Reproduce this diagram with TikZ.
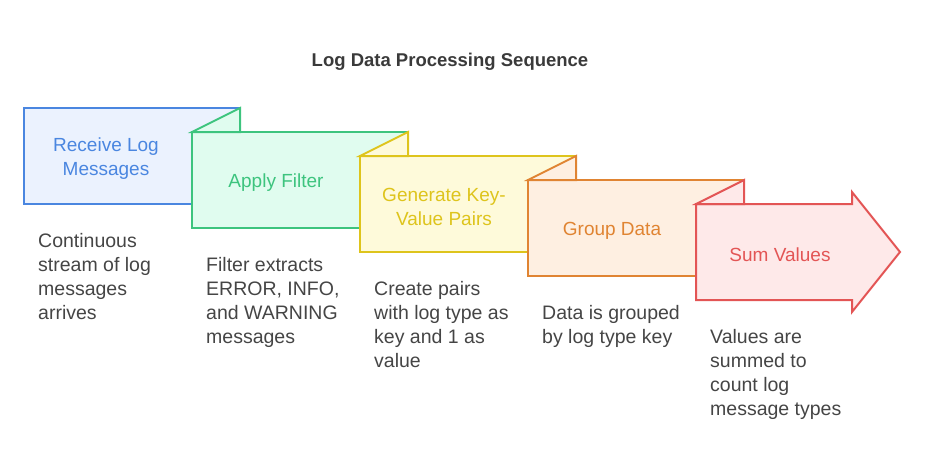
\documentclass[tikz,border=0pt]{standalone}
\usepackage{fontspec}
\setmainfont{Liberation Sans}
\begin{document}
\definecolor{blueS}{HTML}{4A86E0}
\definecolor{blueF}{HTML}{EBF2FE}
\definecolor{greenS}{HTML}{3DC47E}
\definecolor{greenF}{HTML}{E0FCEF}
\definecolor{yelS}{HTML}{DEC41C}
\definecolor{yelF}{HTML}{FEFADA}
\definecolor{oraS}{HTML}{E08432}
\definecolor{oraF}{HTML}{FEEFE1}
\definecolor{redS}{HTML}{E35555}
\definecolor{redF}{HTML}{FEE9E9}
\definecolor{descC}{HTML}{454545}
\definecolor{titleC}{HTML}{3A3A3A}
\begin{tikzpicture}[x=1pt,y=-1pt,
  shapeline/.style={line width=2pt,line join=miter},
  boxlabel/.style={font=\fontsize{19}{24}\selectfont,align=center,inner sep=0pt},
  desc/.style={font=\fontsize{19.5}{24}\selectfont,align=left,inner sep=0pt,anchor=north west,text=descC},
  titletext/.style={font=\bfseries\fontsize{18.5}{20}\selectfont,text=titleC}]
\useasboundingbox (0,0) rectangle (925,468);

\node[titletext] (title) at (450,61.5) {Log Data Processing Sequence};

% step 1: plain box
\draw[shapeline,draw=blueS,fill=blueF] (24,108) rectangle (240,204);
% steps 2-4: folded boxes, each with a flap reaching back to the previous corner
\draw[shapeline,draw=greenS,fill=greenF] (192,132) rectangle (408,228);
\draw[shapeline,draw=greenS,fill=greenF] (192,132) -- (240,108) -- (240,132) -- cycle;
\draw[shapeline,draw=yelS,fill=yelF] (360,156) rectangle (576,252);
\draw[shapeline,draw=yelS,fill=yelF] (360,156) -- (408,132) -- (408,156) -- cycle;
\draw[shapeline,draw=oraS,fill=oraF] (528,180) rectangle (744,276);
\draw[shapeline,draw=oraS,fill=oraF] (528,180) -- (576,156) -- (576,180) -- cycle;
% step 5: arrow
\draw[shapeline,draw=redS,fill=redF] (696,204) -- (852,204) -- (852,192) -- (900,252)
  -- (852,312) -- (852,300) -- (696,300) -- cycle;
\draw[shapeline,draw=redS,fill=redF] (696,204) -- (744,180) -- (744,204) -- cycle;

% step labels
\node[boxlabel,text=blueS] (l1) at (106,158.5) {Receive Log\\Messages};
\node[boxlabel,text=greenS] (l2) at (276,182.5) {Apply Filter};
\node[boxlabel,text=yelS] (l3) at (444,206.5) {Generate Key-\\Value Pairs};
\node[boxlabel,text=oraS] (l4) at (612,230.5) {Group Data};
\node[boxlabel,text=redS] (l5) at (780,254.5) {Sum Values};

% descriptions
\node[desc] (d1) at (38,233.5) {Continuous\\stream of log\\messages\\arrives};
\node[desc] (d2) at (206,257.5) {Filter extracts\\ERROR, INFO,\\and WARNING\\messages};
\node[desc] (d3) at (374,281.5) {Create pairs\\with log type as\\key and 1 as\\value};
\node[desc] (d4) at (542,305.5) {Data is grouped\\by log type key};
\node[desc] (d5) at (710,329.5) {Values are\\summed to\\count log\\message types};
\end{tikzpicture}
\end{document}
